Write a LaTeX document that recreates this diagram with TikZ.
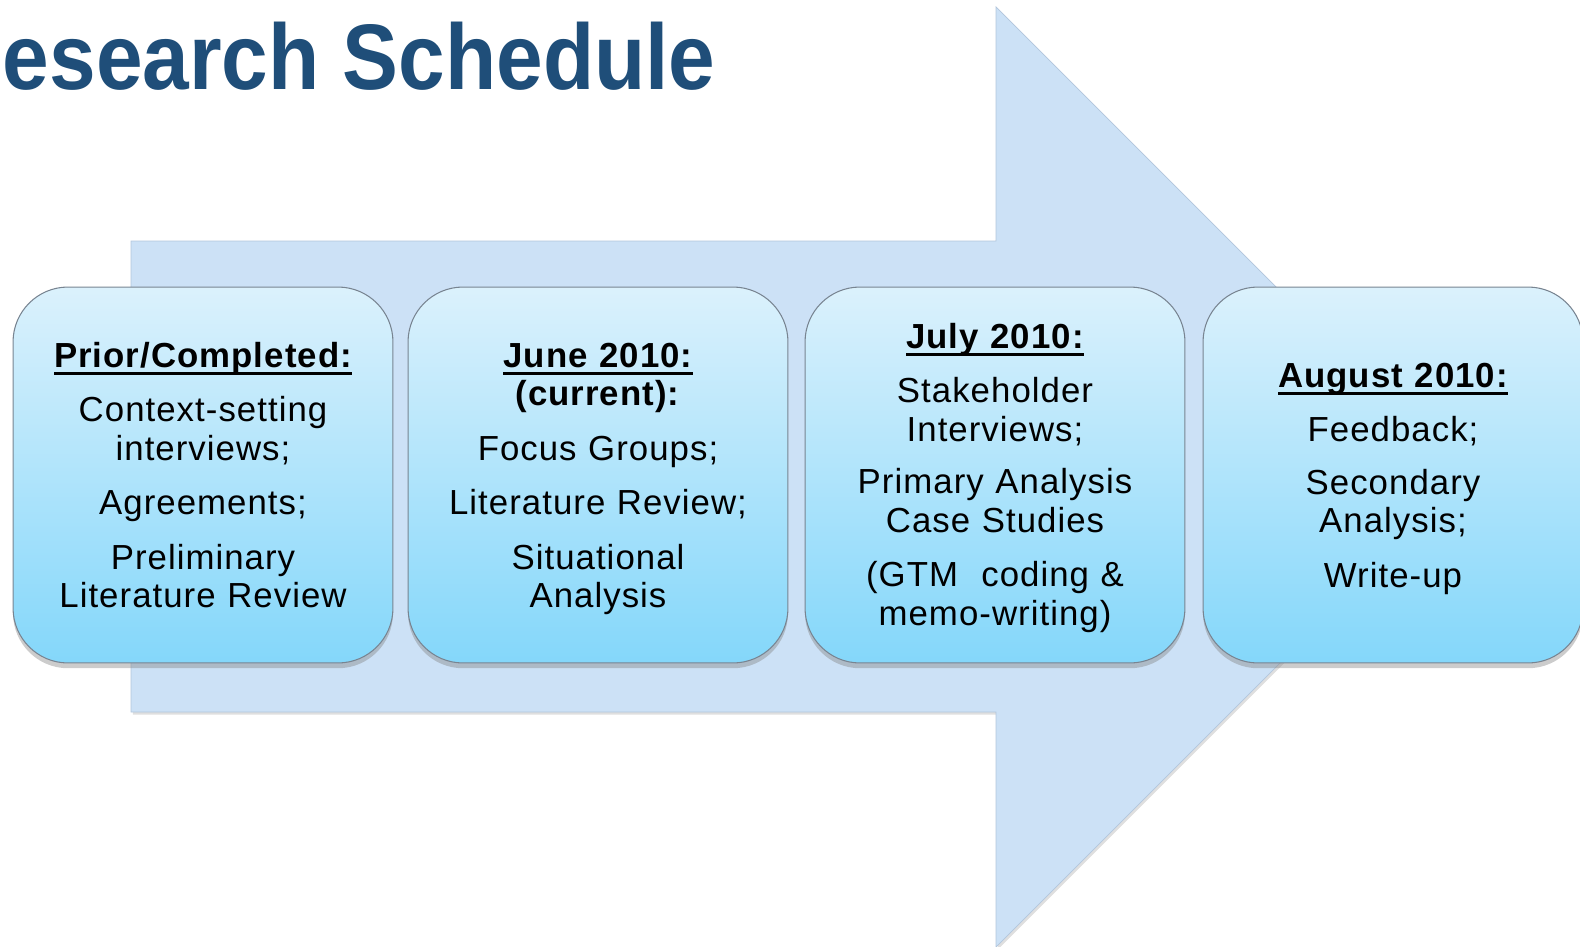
\documentclass[tikz,border=0pt]{standalone}
\usepackage{fontspec}
\setmainfont{Liberation Sans}
\newfontfamily\titlefont{Liberation Sans}[FakeStretch=0.9]
\newfontfamily\boxfont{Liberation Sans}[LetterSpace=3]
\usetikzlibrary{shadows}
\definecolor{titleblue}{RGB}{31,78,121}
\definecolor{arrowblue}{RGB}{204,225,246}
\definecolor{arrowedge}{RGB}{178,198,220}
\definecolor{boxtop}{RGB}{219,241,252}
\definecolor{boxbottom}{RGB}{132,215,250}
\definecolor{boxedge}{RGB}{120,132,145}
% underlined bold heading of a phase
\newcommand{\hdr}[1]{\setbox0\hbox{\bfseries #1}\rlap{\rule[-4.5pt]{\wd0}{1.5pt}}\box0}

\begin{document}
\begin{tikzpicture}[x=0.02cm, y=-0.02cm,
	phase/.style={rounded corners=1.1cm, draw=boxedge, line width=0.6pt, top color=boxtop, bottom color=boxbottom,
		minimum width=7.6cm, minimum height=7.52cm, drop shadow={shadow xshift=0pt, shadow yshift=-3pt, opacity=0.4}},
	phasetext/.style={anchor=base, text width=7.2cm, align=center, inner sep=0pt,
		font=\boxfont\fontsize{19.8pt}{22pt}\selectfont}]
	\useasboundingbox (0,0) rectangle (1580,947);
	% big arrow behind the phases
	\filldraw[fill=arrowblue, draw=arrowedge, line width=0.4pt, drop shadow={shadow xshift=1pt, shadow yshift=-1.5pt, opacity=0.25}]
		(131,241) -- (996,241) -- (996,7) -- (1466,477) -- (996,947) -- (996,712) -- (131,712) -- cycle;
	\node[anchor=base east, inner sep=0pt, text=titleblue, font=\titlefont\bfseries\fontsize{53pt}{60pt}\selectfont] (title) at (716,89) {esearch Schedule};
	% phases
	\node[phase] (prior) at (203,475) {};
	\node[phase] (june) at (598,475) {};
	\node[phase] (july) at (995,475) {};
	\node[phase] (august) at (1393,475) {};
	\node[phasetext] (priortext) at (203,367) {\hdr{Prior/Completed:}\\[9pt] Context-setting\\ interviews;\\[9pt] Agreements;\\[9pt] Preliminary\\ Literature Review};
	\node[phasetext] (junetext) at (598,367) {\hdr{June 2010:}\\ \textbf{(current):}\\[9pt] Focus Groups;\\[9pt] Literature Review;\\[9pt] Situational\\ Analysis};
	\node[phasetext] (julytext) at (995,348) {\hdr{July 2010:}\\[9pt] Stakeholder\\ Interviews;\\[8pt] Primary Analysis\\ Case Studies\\[9pt] (GTM\ \ coding \&\\ memo-writing)};
	\node[phasetext] (augusttext) at (1393,387) {\hdr{August 2010:}\\[9pt] Feedback;\\[8pt] Secondary\\ Analysis;\\[9pt] Write-up};
\end{tikzpicture}
\end{document}
